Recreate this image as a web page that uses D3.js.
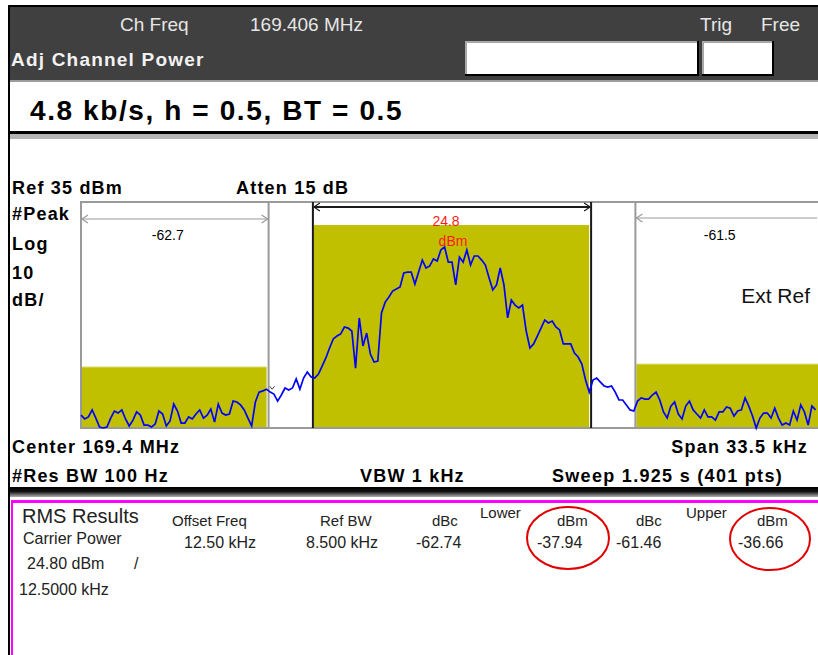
<!DOCTYPE html>
<html>
<head>
<meta charset="utf-8">
<script src="https://cdn.jsdelivr.net/npm/d3@7"></script>
<style>
  body { margin: 0; background: #fff; }
  svg { display: block; font-family: "Liberation Sans", Arial, sans-serif; }
</style>
</head>
<body>
<div id="chart"></div>
<script>
// analyzer settings
const chFreq = '169.406 MHz';
const spanKHz = 33.5;
const refLevel = 35;
const dbPerDiv = 10;
const divisions = 10;

// channels (kHz offset from centre, power in dBm)
const channelNames = ['lower', 'main', 'upper'];
const channelLo = [-16.75, -6.28, 8.28];
const channelHi = [-8.28, 6.28, 16.75];
const channelPower = [-37.94, 24.8, -36.66];
const channelLabels = ['-62.7', '24.8', '-61.5'];

// trace: every 2nd of the 401 sweep points, dBm
const traceStep = 2 * spanKHz / 400;
const trace = [
  -59.3, -61.0, -60.1, -57.0, -60.6, -64.6, -65.0, -64.6, -60.6, -57.5,
  -58.4, -57.0, -61.0, -64.1, -61.5, -57.9, -59.3, -63.7, -63.7, -64.6,
  -63.2, -57.5, -58.8, -64.1, -61.9, -54.4, -57.5, -62.8, -62.8, -60.1,
  -61.0, -58.8, -57.0, -60.6, -59.3, -56.6, -62.4, -54.4, -58.4, -59.3,
  -58.8, -53.1, -53.5, -54.8, -57.0, -60.6, -64.1, -53.5, -49.1, -48.6,
  -47.8, -49.1, -50.0, -53.1, -50.4, -47.3, -48.2, -47.3, -43.3, -47.8,
  -42.9, -40.2, -42.4, -42.9, -41.1, -37.6, -34.0, -29.6, -25.6, -24.3,
  -23.4, -20.3, -20.8, -22.1, -38.5, -16.3, -28.7, -23.0, -32.3, -35.8,
  -35.4, -14.1, -9.3, -7.0, -4.4, -3.5, -2.6, 3.6, 4.0, 4.0,
  -1.3, 4.0, 9.3, 5.8, 6.7, 9.8, 8.9, 13.8, 15.1, 8.4,
  8.4, -1.7, 10.6, 8.4, 13.8, 7.1, 11.1, 11.1, 9.3, 7.1,
  1.4, -3.9, -1.7, 5.8, -1.7, -16.3, -8.4, -10.6, -11.9, -10.6,
  -22.1, -29.6, -27.8, -24.3, -20.8, -17.2, -18.5, -17.7, -20.3, -21.6,
  -27.8, -27.8, -27.8, -31.8, -33.6, -36.7, -43.8, -49.1, -43.8, -42.9,
  -44.7, -46.4, -46.9, -46.4, -49.1, -52.6, -52.6, -54.8, -57.0, -57.5,
  -53.1, -51.7, -52.2, -52.2, -50.4, -49.1, -52.6, -57.9, -60.6, -55.3,
  -53.5, -58.8, -61.0, -55.3, -53.1, -57.0, -58.8, -60.6, -57.0, -60.1,
  -60.1, -61.5, -57.9, -57.9, -55.7, -56.2, -59.7, -57.5, -57.0, -51.7,
  -55.3, -59.7, -65.0, -60.6, -58.4, -58.4, -60.6, -56.2, -60.6, -63.7,
  -62.8, -63.7, -57.5, -61.5, -54.8, -57.9, -63.7, -55.3, -57.0
];

// results table
const resultHeads = ['Offset Freq', 'Ref BW', 'dBc', 'dBm', 'dBc', 'dBm'];
const resultRow = ['12.50 kHz', '8.500 kHz', '-62.74', '-37.94', '-61.46', '-36.66'];
const carrierPower = ['24.80 dBm', '/', '12.5000 kHz'];

const W = 818, H = 655;
const svg = d3.select('#chart').append('svg').attr('width', W).attr('height', H);

function txt(x, y, s, size, opts = {}) {
  return svg.append('text')
    .attr('x', x).attr('y', y)
    .attr('font-size', size)
    .attr('font-weight', opts.bold ? 'bold' : 'normal')
    .attr('fill', opts.fill || '#000')
    .attr('text-anchor', opts.anchor || 'start')
    .attr('letter-spacing', opts.ls || 0)
    .text(s);
}

// ---- header panel
svg.append('rect').attr('x', 8).attr('y', 5).attr('width', W).attr('height', 2).attr('fill', '#000');
svg.append('rect').attr('x', 8).attr('y', 5).attr('width', 2).attr('height', H).attr('fill', '#000');
svg.append('rect').attr('x', 10).attr('y', 7).attr('width', W).attr('height', 73).attr('fill', '#404040');
svg.append('rect').attr('x', 10).attr('y', 80).attr('width', W).attr('height', 2).attr('fill', '#9c9c9c');

txt(120, 31, 'Ch Freq', 19, { fill: '#e6e6e6' });
txt(250, 31, chFreq, 19, { fill: '#e6e6e6' });
txt(700, 31, 'Trig', 19, { fill: '#e6e6e6' });
txt(761, 31, 'Free', 19, { fill: '#e6e6e6' });
txt(11, 66, 'Adj Channel Power', 19, { bold: true, fill: '#f2f2f2', ls: 1.2 });

[[465, 234], [702, 72]].forEach(([bx, bw]) => {
  svg.append('rect').attr('x', bx).attr('y', 41).attr('width', bw).attr('height', 35).attr('fill', '#000');
  svg.append('rect').attr('x', bx).attr('y', 41).attr('width', bw - 2).attr('height', 33).attr('fill', '#a8a8a8');
  svg.append('rect').attr('x', bx + 2).attr('y', 43).attr('width', bw - 4).attr('height', 31).attr('fill', '#fff');
});

// title band
txt(30, 120, '4.8 kb/s, h = 0.5, BT = 0.5', 28, { bold: true, ls: 1.6 });
svg.append('rect').attr('x', 10).attr('y', 131).attr('width', W).attr('height', 3).attr('fill', '#000');
svg.append('rect').attr('x', 10).attr('y', 134).attr('width', W).attr('height', 5).attr('fill', '#b4b4b4');

// ---- spectrum
const x = d3.scaleLinear().domain([-spanKHz / 2, spanKHz / 2]).range([81, 823]);
const y = d3.scaleLinear().domain([refLevel - dbPerDiv * divisions, refLevel]).range([428, 202]);
const yBottom = y.domain()[0];

txt(12, 194, 'Ref 35 dBm', 18, { bold: true, ls: 1.2 });
txt(236, 194, 'Atten 15 dB', 18, { bold: true, ls: 1.2 });
txt(12, 220, '#Peak', 18, { bold: true, ls: 1.2 });
txt(12, 250, 'Log', 18, { bold: true, ls: 1.2 });
txt(12, 279, '10', 18, { bold: true, ls: 1.2 });
txt(12, 306, 'dB/', 18, { bold: true, ls: 1.2 });

svg.append('rect')
  .attr('x', x.range()[0]).attr('y', y(refLevel))
  .attr('width', 760).attr('height', y(yBottom) - y(refLevel))
  .attr('fill', '#fff').attr('stroke', '#9a9a9a').attr('stroke-width', 2);

const channels = channelNames.map((n, i) => ({
  name: n, lo: channelLo[i], hi: channelHi[i], power: channelPower[i], label: channelLabels[i]
}));

// power bars
svg.selectAll('rect.ch')
  .data(channels)
  .enter().append('rect')
  .attr('class', 'ch')
  .attr('x', d => x(d.lo) + 1)
  .attr('y', d => y(d.power))
  .attr('width', d => x(d.hi) - x(d.lo) - 3)
  .attr('height', d => y(yBottom) - y(d.power) - 1)
  .attr('fill', '#c0c000');
svg.selectAll('line.chtop')
  .data(channels.filter(d => d.name !== 'main'))
  .enter().append('line')
  .attr('x1', d => x(d.lo) + 1).attr('x2', d => x(d.hi) - 2)
  .attr('y1', d => y(d.power)).attr('y2', d => y(d.power))
  .attr('stroke', '#e8e8a0').attr('stroke-width', 1);

// channel edges and brackets
const edgeCol = { lower: '#9a9a9a', main: '#1a1a1a', upper: '#9a9a9a' };
const bracketY = { lower: 219, main: 207, upper: 218 };
channels.forEach(d => {
  const edges = d.name === 'lower' ? [d.hi] : d.name === 'upper' ? [d.lo] : [d.lo, d.hi];
  edges.forEach(e => {
    svg.append('line')
      .attr('x1', x(e)).attr('x2', x(e))
      .attr('y1', y(refLevel)).attr('y2', y(yBottom))
      .attr('stroke', edgeCol[d.name]).attr('stroke-width', 2);
  });
  const by = bracketY[d.name];
  const x0 = x(d.lo) + 1, x1 = Math.min(x(d.hi), W) - 1;
  svg.append('line').attr('x1', x0).attr('x2', x1).attr('y1', by).attr('y2', by)
    .attr('stroke', edgeCol[d.name]).attr('stroke-width', d.name === 'main' ? 2 : 1.2);
  const arrow = (ax, dir) => svg.append('path')
    .attr('d', `M${ax + dir * 6},${by - 4}L${ax},${by}L${ax + dir * 6},${by + 4}`)
    .attr('fill', 'none').attr('stroke', edgeCol[d.name]).attr('stroke-width', 1.2);
  arrow(x0, 1);
  if (x(d.hi) < W) arrow(x1, -1);
});

// adjacent channel labels
channels.filter(d => d.name !== 'main').forEach(d => {
  txt((x(d.lo) + Math.min(x(d.hi), W)) / 2 - 7, 240, d.label, 14, { anchor: 'middle' });
});
txt(x(0) - 6, 226, channelLabels[1], 14, { anchor: 'middle', fill: '#ff1a1a' });
txt(x(0) + 1, 246, 'dBm', 14, { anchor: 'middle', fill: '#ff1a1a' });

txt(810, 303, 'Ext Ref', 21, { anchor: 'end', fill: '#111' });

// trace
const line = d3.line()
  .x((d, i) => x(-spanKHz / 2 + i * traceStep))
  .y(d => y(d));
svg.append('path')
  .datum(trace)
  .attr('fill', 'none')
  .attr('stroke', '#0000ff')
  .attr('stroke-width', 1.7)
  .attr('d', line);

// small marker
svg.append('path')
  .attr('d', `M${x(channelHi[0]) + 1},${y(-46.5)}l2.5,3l2.5,-3`)
  .attr('fill', 'none').attr('stroke', '#444').attr('stroke-width', 1);

txt(12, 453, 'Center 169.4 MHz', 18, { bold: true, ls: 1.2 });
txt(808, 453, 'Span 33.5 kHz', 18, { bold: true, ls: 1.2, anchor: 'end' });
txt(12, 482, '#Res BW 100 Hz', 18, { bold: true, ls: 1.2 });
txt(360, 482, 'VBW 1 kHz', 18, { bold: true, ls: 1.2 });
txt(552, 482, 'Sweep 1.925 s (401 pts)', 18, { bold: true, ls: 1.3 });

// ---- results panel
const sep = svg.append('defs').append('linearGradient').attr('id', 'sep')
  .attr('x1', 0).attr('x2', 0).attr('y1', 0).attr('y2', 1);
sep.append('stop').attr('offset', '0%').attr('stop-color', '#000');
sep.append('stop').attr('offset', '45%').attr('stop-color', '#111');
sep.append('stop').attr('offset', '100%').attr('stop-color', '#b0b0b0');
svg.append('rect').attr('x', 10).attr('y', 487).attr('width', W).attr('height', 10).attr('fill', 'url(#sep)');
svg.append('rect').attr('x', 11).attr('y', 500).attr('width', W).attr('height', 3).attr('fill', '#ff00ff');
svg.append('rect').attr('x', 11).attr('y', 500).attr('width', 2).attr('height', H - 500).attr('fill', '#ff00ff');

txt(22, 523, 'RMS Results', 20, { fill: '#222' });
const headX = [172, 320, 432, 557, 636, 757];
resultHeads.forEach((h, i) => txt(headX[i], 526, h, 15, { fill: '#222' }));
txt(480, 518, 'Lower', 15, { fill: '#222' });
txt(686, 518, 'Upper', 15, { fill: '#222' });

txt(23, 544, 'Carrier Power', 16, { fill: '#222' });
const rowX = [184, 306, 416, 537, 616, 738];
resultRow.forEach((v, i) => txt(rowX[i], 548, v, 16, { fill: '#222' }));
txt(27, 569, carrierPower[0], 16, { fill: '#222' });
txt(134, 569, carrierPower[1], 16, { fill: '#222' });
txt(19, 595, carrierPower[2], 16, { fill: '#222' });

// highlight rings on the dBm results
[[568, 538, 41, 31], [770, 539, 40, 31]].forEach(([cx, cy, rx, ry]) => {
  svg.append('ellipse').attr('cx', cx).attr('cy', cy).attr('rx', rx).attr('ry', ry)
    .attr('fill', 'none').attr('stroke', '#e00000').attr('stroke-width', 2);
});
</script>
</body>
</html>
